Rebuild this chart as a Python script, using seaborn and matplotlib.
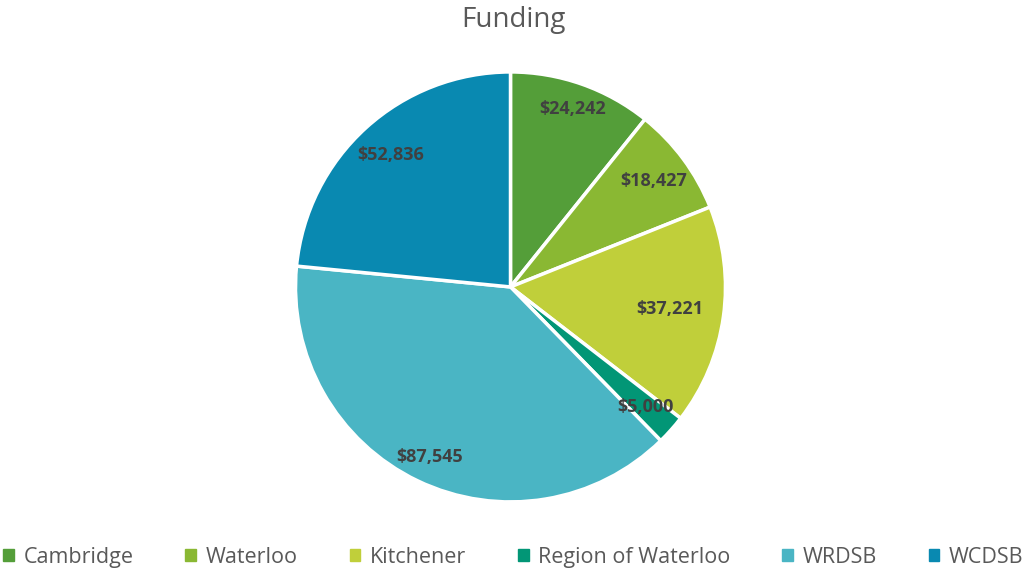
import numpy as np
import matplotlib.pyplot as plt
import seaborn as sns

sns.set_theme(style="white")
plt.rcParams['font.family'] = ['Open Sans', 'DejaVu Sans']

# data
categories = ['Cambridge', 'Waterloo', 'Kitchener', 'Region of Waterloo', 'WRDSB', 'WCDSB']
funding = [24242, 18427, 37221, 5000, 87545, 52836]
colors = ['#549E39', '#8AB833', '#C0CF3A', '#029676', '#4AB5C4', '#0989B1']
# radial position of each data label (fraction of radius)
label_r = [0.875, 0.83, 0.75, 0.84, 0.875, 0.83]

fig = plt.figure(figsize=(10.27, 5.71), dpi=100)
ax = fig.add_axes([0.0, 0.121, 1.0, 0.753])

wedges, _ = ax.pie(funding, colors=colors, startangle=90, counterclock=False,
                   radius=1.0, wedgeprops=dict(edgecolor='white', linewidth=2.5))
ax.set_aspect('equal')
ax.set_xlim(-2.374, 2.402)
ax.set_ylim(-1.0, 1.0)

# data labels
for w, val, r in zip(wedges, funding, label_r):
    ang = np.deg2rad((w.theta1 + w.theta2) / 2)
    ax.text(r * np.cos(ang), r * np.sin(ang), f"${val:,}", ha='center', va='center',
            fontsize=13, fontweight='bold', color='#404040')

fig.suptitle('Funding', y=0.99, fontsize=20, color='#595959')

handles = [plt.Rectangle((0, 0), 1, 1, color=c) for c in colors]
fig.legend(handles, categories, loc='lower center', ncol=6, frameon=False,
           bbox_to_anchor=(0.5, -0.028), fontsize=15.5, handlelength=0.5, handleheight=0.5,
           handletextpad=0.45, columnspacing=2.4, labelcolor='#595959')

fig.savefig('out.png', dpi=100)
